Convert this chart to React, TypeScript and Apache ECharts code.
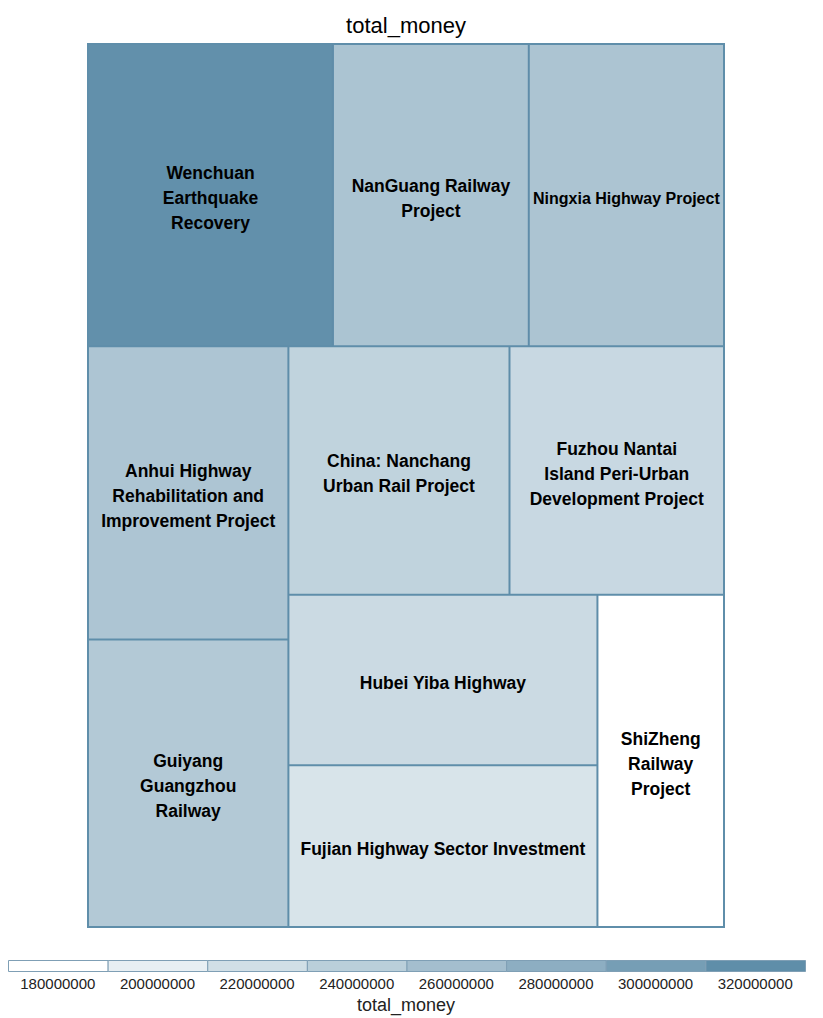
import React, { useEffect, useRef } from "react";
import * as echarts from "echarts";

const projects = [
  "Wenchuan Earthquake Recovery",
  "NanGuang Railway Project",
  "Ningxia Highway Project",
  "Anhui Highway Rehabilitation and Improvement Project",
  "Guiyang Guangzhou Railway",
  "China: Nanchang Urban Rail Project",
  "Fuzhou Nantai Island Peri-Urban Development Project",
  "Hubei Yiba Highway",
  "Fujian Highway Sector Investment",
  "ShiZheng Railway Project",
];

const totalMoney = [
  317000000, 253400000, 252600000, 251500000, 246500000,
  235000000, 228000000, 225500000, 214000000, 180000000,
];

const labelText = [
  "Wenchuan\nEarthquake\nRecovery",
  "NanGuang Railway\nProject",
  "Ningxia Highway Project",
  "Anhui Highway\nRehabilitation and\nImprovement Project",
  "Guiyang\nGuangzhou\nRailway",
  "China: Nanchang\nUrban Rail Project",
  "Fuzhou Nantai\nIsland Peri-Urban\nDevelopment Project",
  "Hubei Yiba Highway",
  "Fujian Highway Sector Investment",
  "ShiZheng\nRailway\nProject",
];

const legendTicks = [
  180000000, 200000000, 220000000, 240000000,
  260000000, 280000000, 300000000, 320000000,
];

const colorMin = 180000000;
const colorMax = 320000000;
const colorRange = ["#ffffff", "#5f8ea9"];

function colorFor(v: number): string {
  const t = Math.max(0, Math.min(1, (v - colorMin) / (colorMax - colorMin)));
  return echarts.color.lerp(t, colorRange) as string;
}

export default function App() {
  const ref = useRef<HTMLDivElement>(null);

  useEffect(() => {
    if (!ref.current) return;
    const chart = echarts.init(ref.current, null, { renderer: "svg" });
    const labelMap: Record<string, string> = {};
    projects.forEach((p, i) => (labelMap[p] = labelText[i]));

    const legendLeft = 8;
    const legendRight = 805;
    const boxW = (legendRight - legendLeft) / legendTicks.length;
    const legendGraphics: any[] = [];
    legendTicks.forEach((t, i) => {
      legendGraphics.push({
        type: "rect",
        shape: { x: legendLeft + i * boxW + 0.5, y: 960.5, width: boxW, height: 11 },
        style: { fill: colorFor(t), stroke: "#7f9fb5", lineWidth: 1 },
        silent: true,
      });
      legendGraphics.push({
        type: "text",
        x: legendLeft + i * boxW + boxW / 2,
        y: 983,
        style: {
          text: String(t),
          fontSize: 15,
          fontFamily: "Liberation Sans",
          fill: "#222",
          textAlign: "center",
          textVerticalAlign: "middle",
        },
        silent: true,
      });
    });

    chart.setOption({
      animation: false,
      graphic: [
        {
          type: "text",
          x: 406,
          y: 25,
          style: {
            text: "total_money",
            fontSize: 22,
            fontFamily: "Liberation Sans",
            fill: "#000",
            textAlign: "center",
            textVerticalAlign: "middle",
          },
          silent: true,
        },
        ...legendGraphics,
        {
          type: "text",
          x: 406,
          y: 1005,
          style: {
            text: "total_money",
            fontSize: 18,
            fontFamily: "Liberation Sans",
            fill: "#222",
            textAlign: "center",
            textVerticalAlign: "middle",
          },
          silent: true,
        },
      ],
      series: [
        {
          type: "treemap",
          left: 87,
          top: 43,
          width: 638,
          height: 885,
          squareRatio: 1,
          roam: false,
          nodeClick: false,
          sort: "desc",
          breadcrumb: { show: false },
          itemStyle: { borderColor: "#5f8eaa", borderWidth: 1, gapWidth: 0 },
          emphasis: { disabled: true },
          label: {
            show: true,
            position: "inside",
            formatter: (p: any) => labelMap[p.name] ?? p.name,
            color: "#000",
            fontWeight: "bold",
            fontSize: 17.5,
            lineHeight: 25,
            fontFamily: "Liberation Sans",
            align: "center",
            verticalAlign: "middle",
            overflow: "none",
            offset: [0, 3],
          },
          data: projects.map((name, i) => ({
            name,
            value: totalMoney[i],
            itemStyle: { color: colorFor(totalMoney[i]) },
            label: name === "Ningxia Highway Project" ? { fontSize: 16 } : undefined,
          })),
        },
      ],
    });
    return () => chart.dispose();
  }, []);

  return (
    <div
      ref={ref}
      style={{ position: "absolute", left: 0, top: 0, width: 823, height: 1018 }}
    />
  );
}
